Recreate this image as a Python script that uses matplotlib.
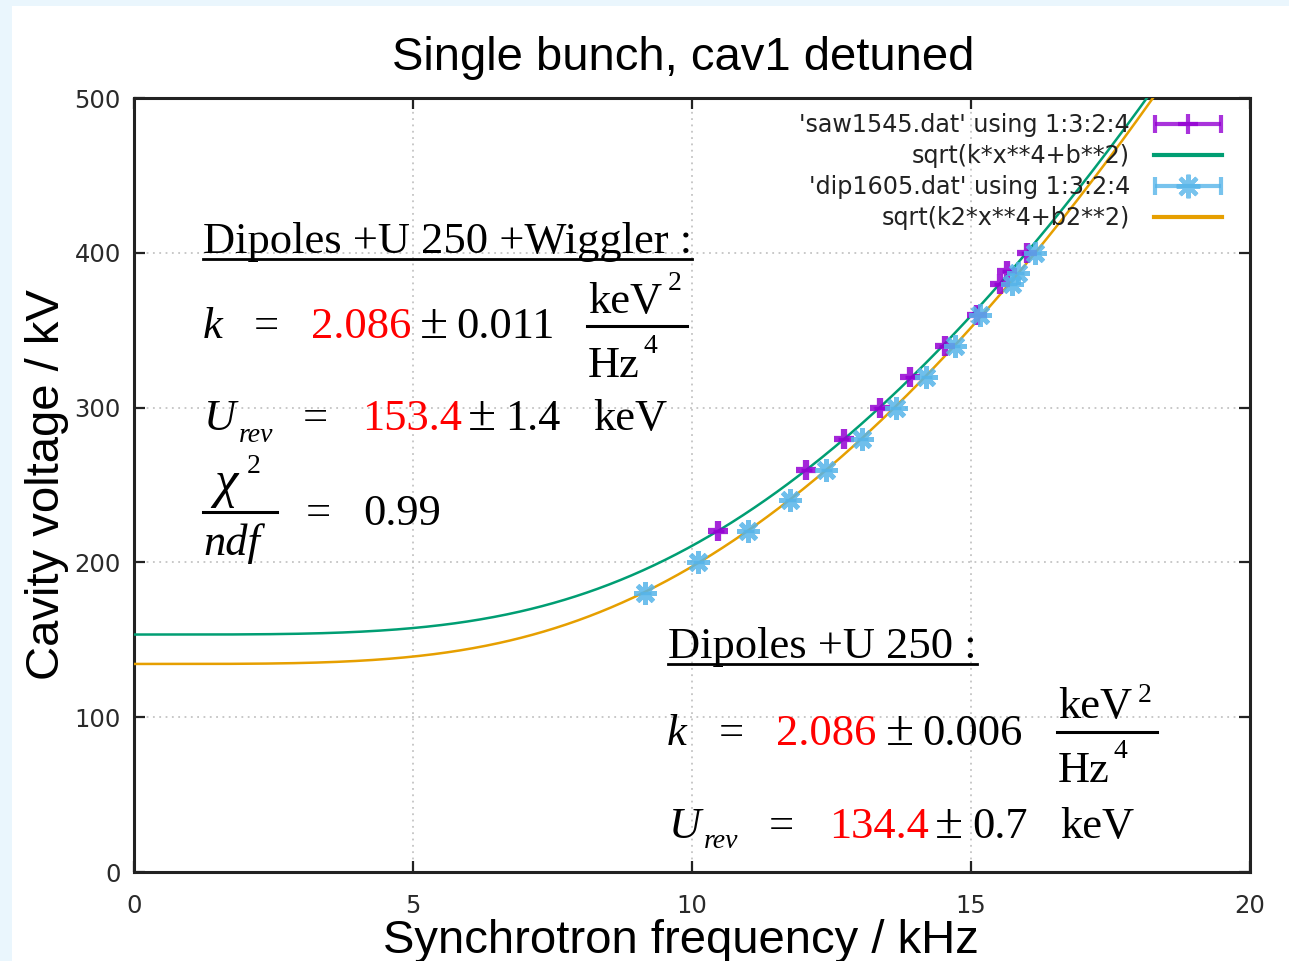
import numpy as np
import matplotlib
matplotlib.use("Agg")
import matplotlib.pyplot as plt
from matplotlib.lines import Line2D
from matplotlib.patches import Rectangle
from matplotlib.legend_handler import HandlerErrorbar

# ---------------- data ----------------
saw_f = [10.47, 12.05, 12.72, 13.37, 13.91, 14.53, 15.10, 15.52, 15.65, 16.00]
saw_v = [220, 260, 280, 300, 320, 340, 360, 380, 388, 400]
saw_ferr = [0.10] * len(saw_f)

dip_f = [9.16, 10.11, 11.01, 11.76, 12.41, 13.05, 13.65, 14.20, 14.71, 15.16, 15.73, 15.85, 16.15]
dip_v = [180, 200, 220, 240, 260, 280, 300, 320, 340, 360, 380, 387, 400]
dip_ferr = [0.10] * len(dip_f)

k1, b1 = 2.086, 153.4   # Dipoles + U250 + Wiggler
k2, b2 = 2.086, 134.4   # Dipoles + U250

xticks = [0, 5, 10, 15, 20]
yticks = [0, 100, 200, 300, 400, 500]

labels = ["'saw1545.dat' using 1:3:2:4", "sqrt(k*x**4+b**2)",
          "'dip1605.dat' using 1:3:2:4", "sqrt(k2*x**4+b2**2)"]

# ---------------- figure ----------------
W, H = 1289, 961
fig = plt.figure(figsize=(W / 100, H / 100), dpi=100)
fig.patch.set_facecolor('#eaf6fd')
fig.add_artist(Rectangle((12 / W, 0), 1 - 12 / W, 1 - 6 / H, transform=fig.transFigure,
                         facecolor='white', edgecolor='none', zorder=-10))

ax = fig.add_axes([134 / W, (H - 872) / H, (1250 - 134) / W, (872 - 98) / H])
ax.set_facecolor('white')
ax.set_xlim(0, 20)
ax.set_ylim(0, 500)
ax.set_xticks(xticks)
ax.set_yticks(yticks)
ax.grid(True, color='#c4c4c4', linestyle=(0, (1, 2.5)), linewidth=1.3)
ax.set_axisbelow(True)
for s in ax.spines.values():
    s.set_linewidth(2.2)
    s.set_color('#222222')
ax.tick_params(direction='in', length=8, width=1.6, top=True, right=True,
               labelsize=17.5, labelcolor='#2a2a2a', color='#222222')
ax.tick_params(axis='y', pad=9.5)
ax.tick_params(axis='x', pad=15.5)

purple, green, cyan, orange = '#9400d3', '#009e73', '#56b4e9', '#e69f00'

xs = np.linspace(0, 20, 600)
ax.errorbar(saw_f, saw_v, xerr=saw_ferr, fmt='+', color=purple, ms=14, mew=4.5,
            elinewidth=2.5, capsize=0, alpha=0.85, zorder=4)
ax.plot(xs, np.sqrt(k1 * xs ** 4 + b1 ** 2), color=green, lw=1.8, zorder=3)
ax.errorbar(dip_f, dip_v, xerr=dip_ferr, fmt='', linestyle='none', marker=(8, 2, 0),
            color=cyan, ms=16, mew=3.5, elinewidth=2.5, capsize=0, alpha=0.85, zorder=4)
ax.plot(xs, np.sqrt(k2 * xs ** 4 + b2 ** 2), color=orange, lw=1.8, zorder=3)

# legend handles (errorbar style with caps)
hl1 = ax.errorbar([np.nan], [np.nan], xerr=[1], fmt='+', color=purple, ms=14, mew=3,
                  elinewidth=3, capsize=6.5, capthick=3, alpha=0.8)
hl2 = ax.errorbar([np.nan], [np.nan], xerr=[1], fmt='', linestyle='none',
                  marker=(8, 2, 0), color=cyan, ms=17, mew=3,
                  elinewidth=3, capsize=6.5, capthick=3, alpha=0.8)
lg1 = Line2D([], [], color=green, lw=3)
lg2 = Line2D([], [], color=orange, lw=3)

LFS = 17.2
leg = ax.legend([hl1, lg1, hl2, lg2], labels, loc='upper right',
                bbox_to_anchor=((1222 - 134) / 1116, (872 - 113) / 774),
                frameon=False, markerfirst=False, fontsize=LFS, handlelength=2.85,
                handletextpad=1.0, labelspacing=0.30, borderpad=0, borderaxespad=0,
                numpoints=1,
                handler_map={type(hl1): HandlerErrorbar(xerr_size=1.38)})
for t in leg.get_texts():
    t.set_color('#222222')

# ---------------- titles / labels ----------------
fig.text(683.5 / W, 1 - 70 / H, 'Single bunch, cav1 detuned', ha='center', va='baseline',
         fontsize=34, family='Liberation Sans')
fig.text(47 / W, 1 - 485 / H, 'Cavity voltage / kV', ha='center', va='center',
         rotation=90, fontsize=34, family='Liberation Sans')
fig.text(681 / W, 1 - 953 / H, 'Synchrotron frequency / kHz', ha='center', va='baseline',
         fontsize=34, family='Liberation Sans')

# ---------------- annotation blocks ----------------
SERIF = 'Liberation Serif'
FS = 32
SS = 20
PM = 37


def ftext(x, y, s, size=FS, color='black', style='normal', ha='left'):
    return fig.text(x / W, 1 - y / H, s, ha=ha, va='baseline', fontsize=size,
                    family=SERIF, color=color, style=style)


def hline(x0, x1, y, lw=2.2):
    fig.add_artist(Line2D([x0 / W, x1 / W], [1 - y / H, 1 - y / H], color='black',
                          lw=lw, transform=fig.transFigure))


def fraction_unit(x, yline, num_base, den_base, sup_num, sup_den):
    ftext(x + 1, num_base, 'keV')
    ftext(x + 81, sup_num, '2', size=SS)
    ftext(x + 1, den_base, 'Hz')
    ftext(x + 56, sup_den, '4', size=SS)
    hline(x, x + 100, yline)


# block 1 : Dipoles + U250 + Wiggler
t1 = ftext(203, 253, 'Dipoles +U 250 +Wiggler :')
ftext(203, 338, 'k', style='italic')
ftext(254, 338, '=')
ftext(311, 338, '2.086', color='red')
ftext(420, 338, '±', size=PM)
ftext(456, 338, '0.011')
fraction_unit(587, 326, 313, 377, 290, 353)

ftext(204, 430, 'U', style='italic')
ftext(239, 442, 'rev', size=SS, style='italic')
ftext(303, 430, '=')
ftext(362, 430, '153.4', color='red')
ftext(468, 430, '±', size=PM)
ftext(505, 430, '1.4')
ftext(593, 430, 'keV')

ftext(214, 497, 'χ', size=38, style='italic')
ftext(247, 473, '2', size=SS)
hline(203, 277, 512)
ftext(203, 555, 'ndf', style='italic')
ftext(306, 525, '=')
ftext(363, 525, '0.99')

# block 2 : Dipoles + U250
t2 = ftext(668, 658, 'Dipoles +U 250 :')
ftext(667, 745, 'k', style='italic')
ftext(719, 745, '=')
ftext(776, 745, '2.086', color='red')
ftext(886, 745, '±', size=PM)
ftext(922, 745, '0.006')
fraction_unit(1057, 732, 718, 782, 702, 758)

ftext(669, 838, 'U', style='italic')
ftext(704, 848, 'rev', size=SS, style='italic')
ftext(769, 838, '=')
ftext(829, 838, '134.4', color='red')
ftext(935, 838, '±', size=PM)
ftext(972, 838, '0.7')
ftext(1060, 838, 'keV')

# underlines from rendered text extents
fig.canvas.draw()
r = fig.canvas.get_renderer()
for t, yu in ((t1, 259), (t2, 664)):
    bb = t.get_window_extent(renderer=r)
    hline(bb.x0, bb.x1, yu, lw=2.0)

fig.savefig('out.png', dpi=100, facecolor=fig.get_facecolor())
